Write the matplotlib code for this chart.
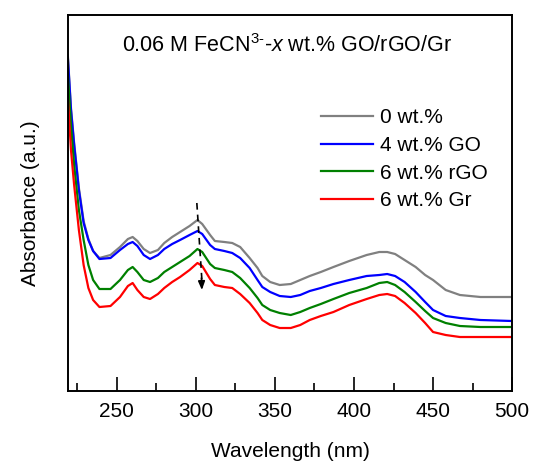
import matplotlib
matplotlib.use("Agg")
import matplotlib.pyplot as plt
from matplotlib.ticker import MultipleLocator, NullLocator

plt.rcParams['font.family'] = ['Liberation Sans', 'DejaVu Sans']
plt.rcParams['mathtext.fontset'] = 'custom'
plt.rcParams['mathtext.rm'] = 'Liberation Sans'
plt.rcParams['mathtext.it'] = 'Liberation Sans:italic'

# UV-vis spectra (arbitrary units)
wavelength = [219, 221, 223, 226, 229, 232, 235, 239, 246, 252, 257, 260, 263, 267, 271,
              276, 280, 285, 290, 296, 301, 304, 309, 312, 318, 323, 328, 334, 339,
              342, 347, 353, 360, 366, 372, 379, 387, 397, 408, 416, 421, 426, 432,
              439, 445, 450, 458, 467, 480, 500]

abs_0 = [3.36, 2.83, 2.48, 2.03, 1.70, 1.52, 1.40, 1.33, 1.36, 1.44, 1.52, 1.54, 1.50, 1.42, 1.38,
         1.41, 1.48, 1.54, 1.59, 1.65, 1.71, 1.67, 1.56, 1.50, 1.49, 1.48, 1.44, 1.33, 1.23,
         1.15, 1.09, 1.06, 1.07, 1.11, 1.15, 1.19, 1.24, 1.30, 1.36, 1.39, 1.39, 1.37, 1.31,
         1.24, 1.16, 1.11, 1.01, 0.96, 0.94, 0.94]

abs_go = [3.34, 2.81, 2.46, 2.01, 1.68, 1.51, 1.40, 1.32, 1.33, 1.41, 1.47, 1.49, 1.45, 1.36, 1.32,
          1.36, 1.42, 1.47, 1.51, 1.56, 1.60, 1.57, 1.46, 1.42, 1.40, 1.38, 1.33, 1.23, 1.11,
          1.04, 0.99, 0.95, 0.94, 0.96, 1.00, 1.03, 1.07, 1.11, 1.15, 1.16, 1.17, 1.15, 1.09,
          0.99, 0.89, 0.81, 0.75, 0.73, 0.71, 0.70]

abs_rgo = [3.18, 2.66, 2.26, 1.81, 1.51, 1.26, 1.11, 1.02, 1.02, 1.11, 1.21, 1.24, 1.19, 1.11, 1.09,
           1.13, 1.19, 1.24, 1.29, 1.35, 1.42, 1.39, 1.27, 1.23, 1.21, 1.19, 1.13, 1.03, 0.93,
           0.86, 0.81, 0.78, 0.76, 0.79, 0.83, 0.87, 0.92, 0.98, 1.03, 1.08, 1.09, 1.06, 0.99,
           0.89, 0.80, 0.73, 0.68, 0.65, 0.64, 0.64]

abs_gr = [2.94, 2.41, 2.06, 1.61, 1.26, 1.03, 0.91, 0.84, 0.85, 0.94, 1.05, 1.08, 1.01, 0.94, 0.92,
          0.97, 1.03, 1.09, 1.14, 1.21, 1.28, 1.25, 1.12, 1.06, 1.04, 1.03, 0.97, 0.88, 0.78,
          0.71, 0.66, 0.63, 0.63, 0.66, 0.71, 0.75, 0.79, 0.86, 0.92, 0.96, 0.97, 0.95, 0.88,
          0.78, 0.68, 0.59, 0.56, 0.54, 0.54, 0.54]

labels = ['0 wt.%', '4 wt.% GO', '6 wt.% rGO', '6 wt.% Gr']
colors = ['#808080', '#0000ff', '#008000', '#ff0000']

# dashed arrow marking the decrease at ~302 nm
arrow_start = (300.6, 1.88)
arrow_end = (303.8, 1.01)

fig = plt.figure(figsize=(5.34, 4.68), dpi=100)
ax = fig.add_axes([0.127, 0.1645, 0.832, 0.8035])

for y, lab, c in zip([abs_0, abs_go, abs_rgo, abs_gr], labels, colors):
    ax.plot(wavelength, y, color=c, lw=1.6, label=lab)

ax.plot([arrow_start[0], arrow_end[0]], [arrow_start[1], arrow_end[1] + 0.1],
        color='black', ls=(0, (4, 3)), lw=1.2)
ax.annotate('', xy=arrow_end, xytext=(arrow_end[0] - 0.3, arrow_end[1] + 0.12),
            arrowprops=dict(arrowstyle='-|>,head_length=0.5,head_width=0.2',
                            color='black', lw=1.2, shrinkA=0, shrinkB=0))

ax.set_xlim(219, 500)
ax.set_ylim(0, 3.76)
ax.xaxis.set_major_locator(MultipleLocator(50))
ax.xaxis.set_minor_locator(MultipleLocator(25))
ax.yaxis.set_major_locator(NullLocator())
ax.tick_params(axis='x', which='major', direction='in', length=10, width=1.2,
               labelsize=15, pad=8)
ax.tick_params(axis='x', which='minor', direction='in', length=6, width=1.2)
for s in ax.spines.values():
    s.set_linewidth(1.4)

ax.set_xlabel('Wavelength (nm)', fontsize=15, labelpad=15)
ax.set_ylabel('Absorbance (a.u.)', fontsize=15, labelpad=20)

ax.text(0.493, 0.92, '0.06 M FeCN$^{3\u2010}$-$x$ wt.% GO/rGO/Gr',
        transform=ax.transAxes, ha='center', va='center', fontsize=15.5)

ax.legend(loc='upper left', bbox_to_anchor=(0.547, 0.78), frameon=False,
          fontsize=15, handlelength=2.5, handletextpad=0.3, labelspacing=0.42,
          borderpad=0)

fig.savefig('out.png', dpi=100)
